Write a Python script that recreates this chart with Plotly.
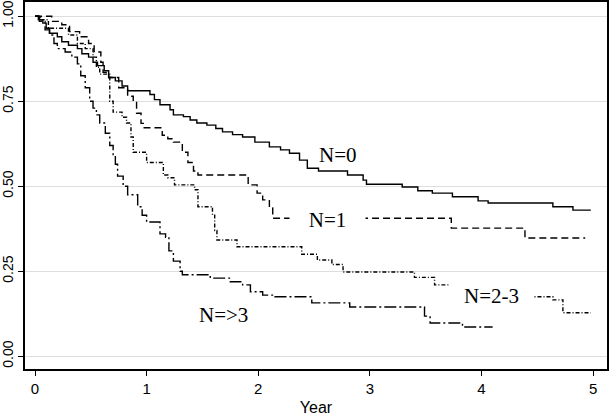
import plotly.graph_objects as go

# ---- data ----
n0_t = [0, 0.03, 0.07, 0.10, 0.13, 0.20, 0.24, 0.30, 0.38, 0.42, 0.48, 0.52, 0.56, 0.62, 0.66, 0.72, 0.78, 0.83,
        1.03, 1.07, 1.12, 1.21, 1.24, 1.33, 1.39, 1.45, 1.54, 1.62, 1.68, 1.77, 1.86, 1.97, 2.10, 2.20, 2.28,
        2.37, 2.44, 2.54, 2.80, 2.94, 2.97, 3.29, 3.43, 3.56, 3.74, 3.97, 4.06, 4.64, 4.82, 4.98]
n0_s = [1.0, 0.99, 0.98, 0.965, 0.95, 0.94, 0.925, 0.915, 0.905, 0.89, 0.88, 0.865, 0.855, 0.84, 0.82, 0.81, 0.795, 0.781,
        0.77, 0.755, 0.74, 0.725, 0.71, 0.705, 0.695, 0.686, 0.68, 0.67, 0.66, 0.652, 0.645, 0.63, 0.616, 0.607, 0.597,
        0.577, 0.553, 0.545, 0.533, 0.518, 0.506, 0.498, 0.487, 0.48, 0.469, 0.457, 0.451, 0.44, 0.43, 0.43]

n1_t = [0, 0.15, 0.24, 0.31, 0.40, 0.48, 0.53, 0.59, 0.61, 0.66, 0.75, 0.83, 0.88, 0.91, 0.95, 0.97,
        1.14, 1.19, 1.24, 1.32, 1.37, 1.42, 1.46, 1.91, 1.99, 2.04, 2.10, 2.13, 3.73, 4.39, 4.93]
n1_s = [1.0, 0.985, 0.975, 0.955, 0.94, 0.92, 0.895, 0.865, 0.835, 0.82, 0.79, 0.765, 0.75, 0.715, 0.685, 0.672,
        0.65, 0.64, 0.63, 0.60, 0.57, 0.545, 0.533, 0.504, 0.48, 0.46, 0.436, 0.406, 0.377, 0.348, 0.348]

n23_t = [0, 0.05, 0.12, 0.30, 0.38, 0.45, 0.52, 0.55, 0.58, 0.67, 0.70, 0.78, 0.82, 0.86, 0.88, 1.00, 1.15, 1.19,
         1.25, 1.43, 1.46, 1.59, 1.61, 1.63, 1.81, 2.39, 2.53, 2.66, 2.76, 3.40, 3.58, 4.10, 4.64, 4.73, 4.98]
n23_s = [1.0, 0.99, 0.965, 0.945, 0.92, 0.905, 0.88, 0.85, 0.83, 0.75, 0.718, 0.703, 0.686, 0.645, 0.60, 0.57, 0.533, 0.525,
         0.504, 0.49, 0.44, 0.415, 0.37, 0.342, 0.322, 0.30, 0.283, 0.27, 0.248, 0.232, 0.21, 0.175, 0.166, 0.128, 0.128]

n3_t = [0, 0.04, 0.09, 0.13, 0.17, 0.20, 0.27, 0.33, 0.38, 0.41, 0.45, 0.49, 0.52, 0.55, 0.58, 0.63, 0.67, 0.70,
        0.72, 0.74, 0.79, 0.83, 0.92, 0.96, 1.00, 1.12, 1.17, 1.20, 1.24, 1.30, 1.32, 1.57, 1.75, 1.86, 1.93,
        2.04, 2.15, 2.48, 2.82, 3.49, 3.54, 3.83, 4.10]
n3_s = [1.0, 0.985, 0.96, 0.945, 0.92, 0.905, 0.895, 0.88, 0.86, 0.825, 0.79, 0.75, 0.73, 0.71, 0.686, 0.656, 0.62, 0.59,
        0.565, 0.53, 0.50, 0.475, 0.44, 0.415, 0.395, 0.36, 0.35, 0.31, 0.28, 0.25, 0.24, 0.23, 0.219, 0.21, 0.19,
        0.18, 0.175, 0.157, 0.145, 0.118, 0.098, 0.086, 0.086]

x_ticks = [0, 1, 2, 3, 4, 5]
y_ticks = [0, 0.25, 0.5, 0.75, 1.0]
y_ticktext = ["0.00", "0.25", "0.50", "0.75", "1.00"]

labels = ["N=0", "N=1", "N=2-3", "N=>3"]
label_x = [2.715, 2.62, 4.09, 1.69]
label_y = [0.592, 0.402, 0.176, 0.12]
label_box_w = [None, 75, 83, None]

# ---- figure ----
fig = go.Figure()
series = [(n0_t, n0_s, "solid"), (n1_t, n1_s, "7px,4px"),
          (n23_t, n23_s, "4px,2px,1px,2px"), (n3_t, n3_s, "12px,3px,2px,3px")]
for (t, s, dash), name in zip(series, labels):
    fig.add_trace(go.Scatter(x=t, y=s, mode="lines", line_shape="hv", name=name,
                             line=dict(color="black", width=1.4, dash=dash), showlegend=False,
                             hoverinfo="skip"))

for txt, lx, ly, w in zip(labels, label_x, label_y, label_box_w):
    ann = dict(x=lx, y=ly, xref="x", yref="y", text=txt.replace(">", "&gt;"), showarrow=False,
               font=dict(family="Liberation Serif", size=21, color="black"))
    if w:
        ann.update(width=w, height=26, bgcolor="white", borderpad=0)
    fig.add_annotation(**ann)

fig.update_layout(
    width=609, height=416,
    margin=dict(l=25, r=2, t=2, b=47),
    paper_bgcolor="white", plot_bgcolor="white",
    font=dict(family="Liberation Sans", size=14, color="black"),
    xaxis=dict(range=[-0.0896, 5.125], tickvals=x_ticks, ticks="outside", ticklen=5, tickcolor="black",
               showline=True, linecolor="black", linewidth=1.5, mirror=True, showgrid=False, zeroline=False,
               automargin=False, tickfont=dict(size=15),
               title=dict(text="Year", font=dict(size=16), standoff=6)),
    yaxis=dict(range=[-0.0374, 1.042], tickvals=y_ticks, ticktext=y_ticktext, tickangle=-90,
               ticks="outside", ticklen=5, tickcolor="black", automargin=False, tickfont=dict(size=14),
               showline=True, linecolor="black", linewidth=1.5, mirror=True,
               showgrid=True, gridcolor="#dddddd", gridwidth=1, zeroline=False),
)

fig.write_html("out.html", config={"displayModeBar": False},
               post_script="document.body.style.margin='0px';")
